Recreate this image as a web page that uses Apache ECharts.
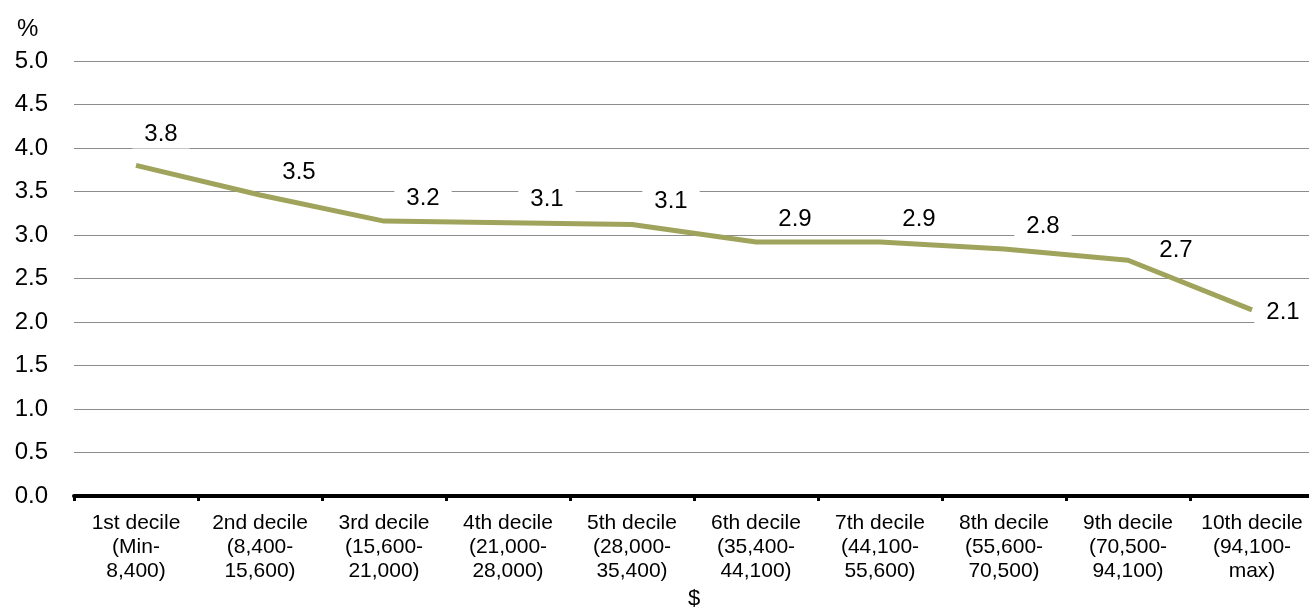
<!DOCTYPE html>
<html>
<head>
<meta charset="utf-8">
<script src="https://cdn.jsdelivr.net/npm/echarts@6/dist/echarts.min.js"></script>
<style>
  html, body { margin: 0; padding: 0; background: #fff; }
  #chart { width: 1309px; height: 616px; }
</style>
</head>
<body>
<div id="chart"></div>
<script>
// decile labels (income ranges in $)
const categories = [
  '1st decile\n(Min-\n8,400)',
  '2nd decile\n(8,400-\n15,600)',
  '3rd decile\n(15,600-\n21,000)',
  '4th decile\n(21,000-\n28,000)',
  '5th decile\n(28,000-\n35,400)',
  '6th decile\n(35,400-\n44,100)',
  '7th decile\n(44,100-\n55,600)',
  '8th decile\n(55,600-\n70,500)',
  '9th decile\n(70,500-\n94,100)',
  '10th decile\n(94,100-\nmax)'
]
const values = [3.8, 3.46, 3.16, 3.14, 3.12, 2.92, 2.92, 2.84, 2.71, 2.14]

const yMin = 0
const yMax = 5
const yStep = 0.5

const textFont = 'Liberation Sans, Arial, sans-serif'

// a few labels sit somewhere else than the default spot
const labelNudge = {
  0: [26, -30],
  8: [49, -9],
  9: [32, 4]
}

const chart = echarts.init(document.getElementById('chart'))

chart.setOption({
  animation: false,
  title: {
    text: '%',
    left: 12,
    top: 12,
    textStyle: {
      fontFamily: textFont,
      fontSize: 24,
      fontWeight: 'normal',
      color: '#000'
    }
  },
  grid: {
    left: 74,
    top: 61,
    width: 1240,
    bottom: 120,
    containLabel: false,
    outerBoundsMode: 'none'
  },
  xAxis: {
    type: 'category',
    data: categories,
    name: '$',
    nameLocation: 'middle',
    nameGap: 91,
    nameTextStyle: {
      fontFamily: textFont,
      fontSize: 22,
      color: '#000'
    },
    axisLine: {
      lineStyle: { color: '#000', width: 4 }
    },
    axisTick: {
      show: true,
      length: 5,
      lineStyle: { color: '#000', width: 3 }
    },
    axisLabel: {
      interval: 0,
      margin: 15,
      fontFamily: textFont,
      fontSize: 21,
      lineHeight: 24,
      color: '#000'
    }
  },
  yAxis: {
    type: 'value',
    min: yMin,
    max: yMax,
    interval: yStep,
    axisLine: { show: false },
    axisTick: { show: false },
    splitLine: {
      lineStyle: { color: '#8c8c8c', width: 1 }
    },
    axisLabel: {
      margin: 26,
      fontFamily: textFont,
      fontSize: 24,
      color: '#000',
      formatter: v => v.toFixed(1)
    }
  },
  series: [{
    type: 'line',
    data: values.map((v, i) => labelNudge[i]
      ? { value: v, label: { position: labelNudge[i] } }
      : v),
    symbol: 'circle',
    symbolSize: 2,
    showSymbol: true,
    itemStyle: { color: 'rgba(0,0,0,0)', borderWidth: 0 },
    lineStyle: { color: '#a0a35b', width: 5 },
    label: {
      show: true,
      position: [40, -22],
      align: 'center',
      verticalAlign: 'middle',
      fontFamily: textFont,
      fontSize: 24,
      color: '#000',
      backgroundColor: '#fff',
      padding: [2, 12],
      formatter: p => p.value.toFixed(1)
    },
    labelLayout: { hideOverlap: false },
    z: 3
  }]
})
</script>
</body>
</html>
